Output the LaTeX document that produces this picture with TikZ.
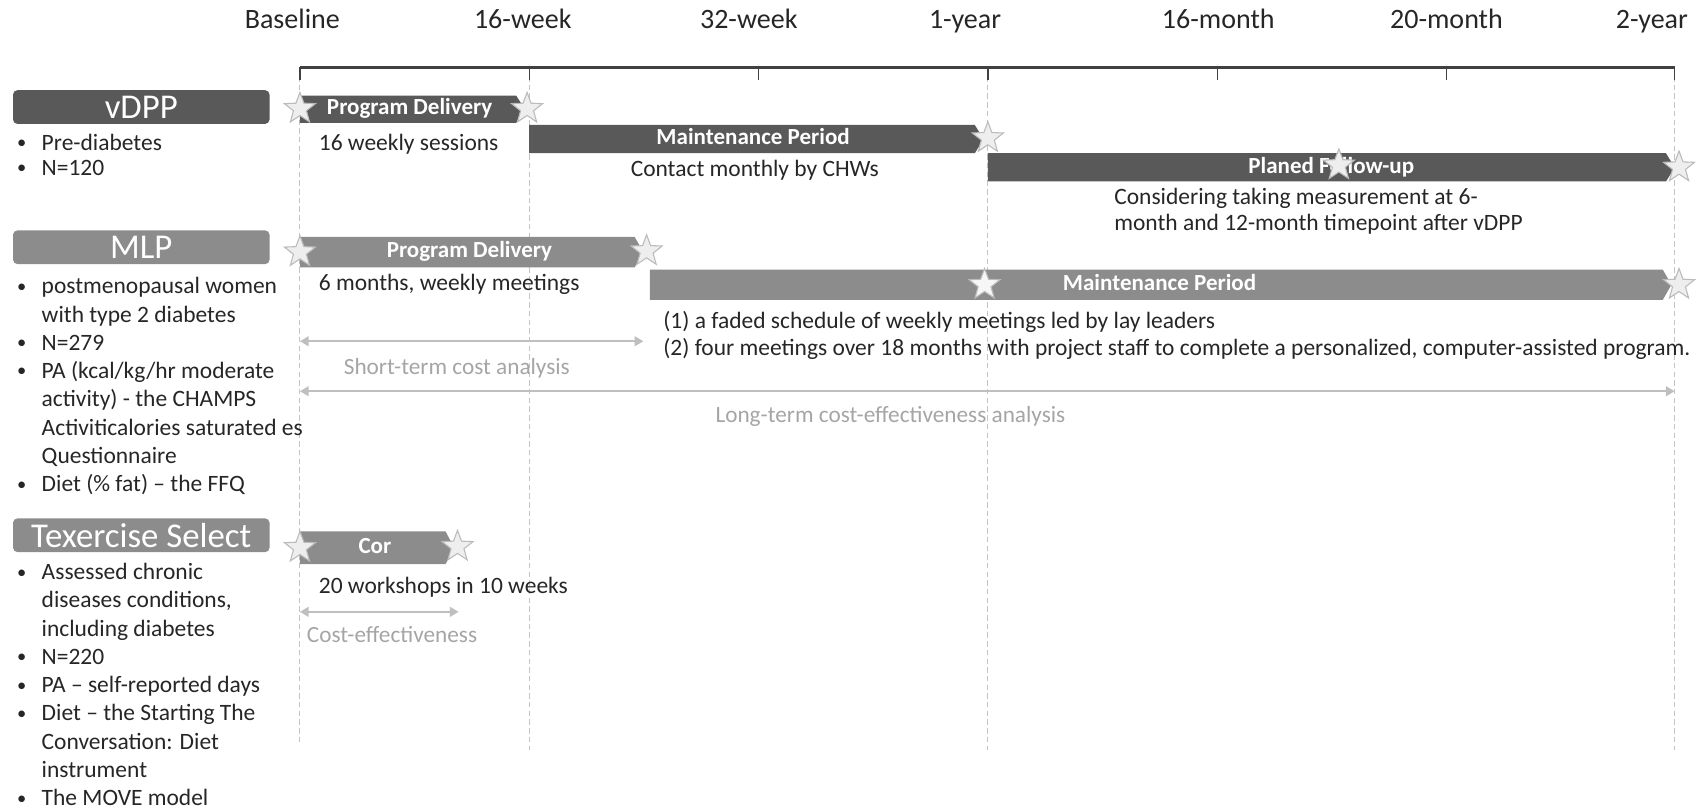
\documentclass[tikz,border=0pt]{standalone}
\usepackage{fontspec}
\setmainfont{Carlito}
\usetikzlibrary{shapes.geometric,arrows.meta}
\definecolor{dk}{HTML}{595959}
\definecolor{md}{HTML}{8C8C8C}
\definecolor{spanc}{HTML}{BFBFBF}
\definecolor{graytext}{HTML}{A5A5A5}
\definecolor{txt}{HTML}{262626}
\definecolor{starfill}{HTML}{EEEEEE}
\definecolor{stardraw}{HTML}{BBBBBB}
\definecolor{axisc}{HTML}{404040}
\definecolor{dashc}{HTML}{C4C4C4}
\newcommand\blockbar[5]{\fill[#5] (#1,#3) -- ({#2-8},#3) -- (#2,{(#3+#4)/2}) -- ({#2-8},#4) -- (#1,#4) -- cycle;}
\begin{document}
\begin{tikzpicture}[x=0.5pt,y=-0.5pt,
  body/.style={anchor=west, text=txt, inner sep=0pt, font=\fontsize{10.8}{13}\selectfont, text height=7.6pt, text depth=2.2pt},
  bulletmark/.style={text=txt, inner sep=0pt, font=\fontsize{8.5}{10}\selectfont},
  graylbl/.style={anchor=west, text=graytext, inner sep=0pt, font=\fontsize{10.7}{13}\selectfont, text height=7.6pt, text depth=2.2pt},
  toplbl/.style={text=txt, inner sep=0pt, font=\fontsize{12.9}{15}\selectfont, text height=9pt, text depth=2.6pt},
  grouptitle/.style={rounded corners=2pt, text=white, font=\fontsize{16}{19}\selectfont, inner sep=0pt, minimum width=118pt, minimum height=15.5pt},
  barlbl/.style={text=white, inner sep=0pt, font=\bfseries\fontsize{10.6}{13}\selectfont, text height=7.4pt, text depth=2.1pt},
  mstar/.style={star, star points=5, star point ratio=2.4, minimum size=15pt, inner sep=0pt, draw=stardraw, fill=starfill, line width=0.5pt},
  spanarrow/.style={draw=spanc, line width=0.8pt, {Triangle[length=4pt,width=4.5pt]}-{Triangle[length=4pt,width=4.5pt]}},
  vdash/.style={draw=dashc, line width=0.5pt, dash pattern=on 2.5pt off 1.5pt},
  axisline/.style={draw=axisc, line width=1.3pt},
  tickline/.style={draw=axisc, line width=0.6pt}
]
\useasboundingbox (0,0) rectangle (1568,746);

% time axis
\node[toplbl] (lbase) at (269,20) {Baseline};
\node[toplbl] (l16w) at (481,20) {16-week};
\node[toplbl] (l32w) at (689,20) {32-week};
\node[toplbl] (l1y) at (888,20) {1-year};
\node[toplbl] (l16m) at (1121,20) {16-month};
\node[toplbl] (l20m) at (1331,20) {20-month};
\node[toplbl] (l2y) at (1520,20) {2-year};

\coordinate (k0) at (276,62);
\coordinate (k1) at (487,62);
\coordinate (k2) at (698,62);
\coordinate (k3) at (909,62);
\coordinate (k4) at (1120,62);
\coordinate (k5) at (1331,62);
\coordinate (k6) at (1541,62);
\coordinate (d0) at (276,685);
\coordinate (d1) at (487,690);
\coordinate (d3) at (909,690);
\coordinate (d6) at (1541,690);

\draw[vdash] (k0) -- (d0);
\draw[vdash] (k1) -- (d1);
\draw[vdash] (k3) -- (d3);
\draw[vdash] (k6) -- (d6);

\foreach \k in {k0,k1,k2,k3,k4,k5,k6}{\draw[tickline] (\k) -- ++(0,12);}
\draw[axisline] (k0) -- (k6);

% group titles
\node[grouptitle, fill=dk] (gv) at (130,98.5) {vDPP};
\node[grouptitle, fill=md] (gm) at (130,227.5) {MLP};
\node[grouptitle, fill=md] (gt) at (130,492.5) {Texercise Select};

% vDPP bullets
\node[bulletmark] (bv1) at (20,133) {•};
\node[body] (tv1) at (38,133) {Pre-diabetes};
\node[bulletmark] (bv2) at (20,156) {•};
\node[body] (tv2) at (38,156) {N=120};

% MLP bullets
\node[bulletmark] (bm1) at (20,265) {•};
\node[body] (tm1) at (38,265) {postmenopausal women};
\node[body] (tm1b) at (38,291) {with type 2 diabetes};
\node[bulletmark] (bm2) at (20,317) {•};
\node[body] (tm2) at (38,317) {N=279};
\node[bulletmark] (bm3) at (20,343) {•};
\node[body] (tm3) at (38,343) {PA (kcal/kg/hr moderate};
\node[body] (tm3b) at (38,369) {activity) - the CHAMPS};
\node[body] (tm3c) at (38,395) {Activiticalories saturated es};
\node[body] (tm3d) at (38,421) {Questionnaire};
\node[bulletmark] (bm4) at (20,447) {•};
\node[body] (tm4) at (38,447) {Diet (\% fat) – the FFQ};

% Texercise bullets
\node[bulletmark] (bt1) at (20,528) {•};
\node[body] (tt1) at (38,528) {Assessed chronic};
\node[body] (tt1b) at (38,554) {diseases conditions,};
\node[body] (tt1c) at (38,580) {including diabetes};
\node[bulletmark] (bt2) at (20,606) {•};
\node[body] (tt2) at (38,606) {N=220};
\node[bulletmark] (bt3) at (20,632) {•};
\node[body] (tt3) at (38,632) {PA – self-reported days};
\node[bulletmark] (bt4) at (20,658) {•};
\node[body] (tt4) at (38,658) {Diet – the Starting The};
\node[body] (tt4b) at (38,684) {Conversation: Diet};
\node[body] (tt4c) at (38,710) {instrument};
\node[bulletmark] (bt5) at (20,736) {•};
\node[body] (tt5) at (38,736) {The MOVE model};

% bars
\blockbar{276}{483}{88}{113}{dk}
\blockbar{487}{905}{115}{141}{dk}
\blockbar{909}{1541}{141}{167}{dk}
\blockbar{276}{592}{218}{246}{md}
\blockbar{598}{1538}{248}{276}{md}
\blockbar{276}{418}{489}{519}{md}

\node[barlbl] (pdv) at (377,100.5) {Program Delivery};
\node[barlbl] (mpv) at (693,128) {Maintenance Period};
\node[barlbl] (pfv) at (1225,154) {Planed Follow-up};
\node[barlbl] (pdm) at (432,232) {Program Delivery};
\node[barlbl] (mpm) at (1067,262) {Maintenance Period};
\node[barlbl] (cor) at (345,504) {Cor};

% stars
\node[mstar] (s1) at (276,100) {};
\node[mstar] (s2) at (485,100) {};
\node[mstar] (s3) at (909,127) {};
\node[mstar] (s4) at (1232,152) {};
\node[mstar] (s5) at (1545,154) {};
\node[mstar] (s6) at (276,232) {};
\node[mstar] (s7) at (595,231) {};
\node[mstar, draw=md!60, fill=white!92!md] (s8) at (906,262) {};
\node[mstar] (s9) at (1545,262) {};
\node[mstar] (s10) at (276,504) {};
\node[mstar] (s11) at (421,503) {};

% descriptions
\node[body] (dv1) at (293,133) {16 weekly sessions};
\node[body] (dv2) at (580,157) {Contact monthly by CHWs};
\node[body] (dv3) at (1025,183) {Considering taking measurement at 6-};
\node[body] (dv4) at (1025,207) {month and 12-month timepoint after vDPP};
\node[body] (dm1) at (293,262) {6 months, weekly meetings};
\node[body] (dm2) at (610,297) {(1) a faded schedule of weekly meetings led by lay leaders};
\node[body] (dm3) at (610,322) {(2) four meetings over 18 months with project staff to complete a personalized, computer-assisted program.};
\node[body] (dt1) at (293,541) {20 workshops in 10 weeks};

% analysis spans
\coordinate (sa0) at (276,314);
\coordinate (sa1) at (592,314);
\coordinate (la0) at (276,360);
\coordinate (la1) at (1541,360);
\coordinate (ca0) at (276,563);
\coordinate (ca1) at (422,563);
\draw[spanarrow] (sa0) -- (sa1);
\draw[spanarrow] (la0) -- (la1);
\draw[spanarrow] (ca0) -- (ca1);
\node[graylbl] (sal) at (316,339) {Short-term cost analysis};
\node[graylbl] (lal) at (658,383) {Long-term cost-effectiveness analysis};
\node[graylbl] (cal) at (282,586) {Cost-effectiveness};
\end{tikzpicture}
\end{document}
